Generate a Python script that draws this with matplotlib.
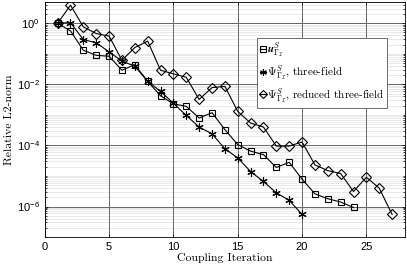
import numpy as np
import matplotlib
matplotlib.use("Agg")
import matplotlib.pyplot as plt
from matplotlib.ticker import FixedLocator, NullFormatter, FixedFormatter

plt.rcParams['mathtext.fontset'] = 'cm'
plt.rcParams['mathtext.rm'] = 'Liberation Sans'

it_u = list(range(1, 25))
u_vals = [1.0, 0.56, 0.13, 0.089, 0.083, 0.029, 0.044, 0.0125, 0.0042, 0.0023,
          0.0019, 0.00079, 0.00118, 0.00033, 1.07e-4, 6.5e-5, 5.0e-5, 1.9e-5,
          2.8e-5, 7.9e-6, 2.6e-6, 1.8e-6, 1.4e-6, 9.3e-7]

it_psi = list(range(1, 21))
psi_vals = [1.0, 1.05, 0.29, 0.23, 0.115, 0.058, 0.039, 0.0125, 0.0059, 0.0024,
            0.00096, 0.0004, 0.00024, 7.8e-5, 3.9e-5, 1.4e-5, 6.6e-6, 2.8e-6,
            1.6e-6, 5.5e-7]

it_red = list(range(1, 28))
red_vals = [1.0, 3.9, 0.76, 0.46, 0.38, 0.061, 0.16, 0.26, 0.029, 0.022, 0.017,
            0.0032, 0.0078, 0.0086, 0.0013, 0.00054, 0.0004, 9.5e-5, 9.5e-5,
            1.3e-4, 2.3e-5, 1.5e-5, 1.2e-5, 3.1e-6, 9.1e-6, 4.0e-6, 5.5e-7]

labels = [r'$\boldsymbol{u}^{S}_{\mathit{\Gamma}_{\mathcal{I}}}$',
          r'$\mathbf{\Psi}^{S}_{\mathit{\Gamma}_{\mathcal{I}}}$, three-field',
          r'$\mathbf{\Psi}^{S}_{\mathit{\Gamma}_{\mathcal{I}}}$, reduced three-field']

xticks = [0, 5, 10, 15, 20, 25]
yticks = [1e-6, 1e-4, 1e-2, 1e0]
ytick_labels = [r'$\mathrm{10^{-6}}$', r'$\mathrm{10^{-4}}$', r'$\mathrm{10^{-2}}$', r'$\mathrm{10^{0}}$']

fig = plt.figure(figsize=(4.07, 2.70), dpi=100)
ax = fig.add_axes([0.110, 0.122, 0.885, 0.871])

ax.semilogy(it_u, u_vals, color='black', lw=0.8, marker='s', ms=5,
            mfc='none', mec='black', mew=0.8, label=labels[0])
ax.semilogy(it_psi, psi_vals, color='black', lw=0.8, marker=(6, 2, 0), ms=6,
            mec='black', mew=0.8, label=labels[1])
ax.semilogy(it_red, red_vals, color='black', lw=0.8, marker='D', ms=5,
            mfc='none', mec='black', mew=0.8, label=labels[2])

ax.set_xlim(0, 28)
ax.set_ylim(1e-7, 5)
ax.set_xticks(xticks)
ax.set_xticklabels([str(t) for t in xticks])
ax.yaxis.set_major_locator(FixedLocator(yticks))
ax.yaxis.set_major_formatter(FixedFormatter(ytick_labels))
minor = []
for e in range(-7, 1):
    for m in range(1, 10):
        v = m * 10.0 ** e
        if v not in yticks and 1e-7 <= v <= 5:
            minor.append(v)
ax.yaxis.set_minor_locator(FixedLocator(minor))
ax.yaxis.set_minor_formatter(NullFormatter())

ax.grid(True, which='major', color='#666666', lw=0.7)
ax.grid(True, which='minor', axis='y', color='#e0e0e0', lw=0.5)
ax.set_axisbelow(True)
ax.yaxis.set_zorder(0.4)
ax.xaxis.set_zorder(0.45)

ax.tick_params(which='both', direction='in', top=True, right=True, labelsize=8,
               length=2.5, width=0.5)
ax.tick_params(which='minor', length=1.5)
for lab in ax.get_xticklabels() + ax.get_yticklabels():
    lab.set_fontfamily('Liberation Sans')
    lab.set_math_fontfamily('custom')
for s in ax.spines.values():
    s.set_linewidth(0.6)
    s.set_zorder(3)

ax.set_xlabel('Coupling Iteration', fontfamily='cmr10', fontsize=8.5, labelpad=1)
ax.set_ylabel('Relative L2-norm', fontfamily='cmr10', fontsize=8.5, labelpad=2)

leg = ax.legend(loc='upper left', bbox_to_anchor=(0.59, 0.847),
                prop={'family': 'cmr10', 'size': 8}, handlelength=0.5,
                handletextpad=0.15, borderpad=0.25, labelspacing=0.35,
                fancybox=False, framealpha=1, edgecolor='#555555',
                borderaxespad=0, markerscale=0.8)
leg.get_frame().set_linewidth(0.6)

fig.savefig('out.png', dpi=100)
